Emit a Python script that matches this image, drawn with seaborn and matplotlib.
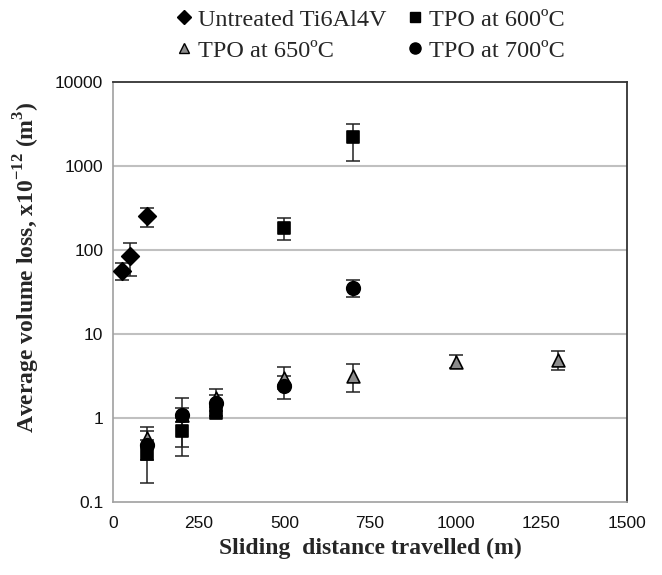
import matplotlib
matplotlib.use("Agg")
import matplotlib.pyplot as plt
import seaborn as sns
import numpy as np
import pandas as pd
from matplotlib.ticker import FixedLocator, MultipleLocator, LogLocator, NullFormatter, FuncFormatter
from matplotlib.lines import Line2D

# ---- data ----
labels = ["Untreated Ti6Al4V", "TPO at 600\u00baC", "TPO at 650\u00baC", "TPO at 700\u00baC"]

untreated_x = [25, 50, 100]
untreated_y = [57, 85, 255]
untreated_lo = [44, 49, 190]
untreated_hi = [70, 122, 313]

tpo600_x = [100, 200, 300, 500, 700]
tpo600_y = [0.37, 0.70, 1.15, 185, 2200]
tpo600_lo = [0.17, 0.35, 1.05, 130, 1150]
tpo600_hi = [0.55, 1.0, 1.35, 240, 3150]

tpo650_x = [100, 200, 300, 500, 700, 1000, 1300]
tpo650_y = [0.58, 1.1, 1.75, 3.0, 3.2, 4.7, 4.9]
tpo650_lo = [0.45, 0.9, 1.4, 2.2, 2.05, 3.9, 3.75]
tpo650_hi = [0.78, 1.3, 2.2, 4.0, 4.4, 5.6, 6.2]

tpo700_x = [100, 200, 300, 500, 700]
tpo700_y = [0.48, 1.1, 1.5, 2.4, 35]
tpo700_lo = [0.32, 0.45, 1.2, 1.7, 27.5]
tpo700_hi = [0.70, 1.75, 1.9, 3.2, 44]

x_ticks = [0, 250, 500, 750, 1000, 1250, 1500]
y_ticks = [0.1, 1, 10, 100, 1000, 10000]
y_ticklabels = ["0.1", "1", "10", "100", "1000", "10000"]

series = [
    (labels[0], untreated_x, untreated_y, untreated_lo, untreated_hi),
    (labels[1], tpo600_x, tpo600_y, tpo600_lo, tpo600_hi),
    (labels[2], tpo650_x, tpo650_y, tpo650_lo, tpo650_hi),
    (labels[3], tpo700_x, tpo700_y, tpo700_lo, tpo700_hi),
]
rows = []
for name, xs, ys, lo, hi in series:
    for xv, yv, l, h in zip(xs, ys, lo, hi):
        rows.append({"series": name, "x": xv, "y": yv, "lo": l, "hi": h})
df = pd.DataFrame(rows)

# ---- style ----
sns.set_theme(style="white")
plt.rcParams["font.family"] = ["Liberation Sans", "DejaVu Sans"]
plt.rcParams["mathtext.fontset"] = "custom"
plt.rcParams["mathtext.rm"] = "Liberation Serif"
plt.rcParams["mathtext.bf"] = "Liberation Serif:bold"

fig = plt.figure(figsize=(6.62, 5.75), dpi=100)
ax = fig.add_axes([113/662, 1-502/575, (627-113)/662, (502-82)/575])

markers = {labels[0]: "D", labels[1]: "s", labels[2]: "^", labels[3]: "o"}
sizes = {labels[0]: 80, labels[1]: 72, labels[2]: 85, labels[3]: 95}
faces = {labels[0]: "black", labels[1]: "black", labels[2]: "#8c8c8c", labels[3]: "black"}

# error bars
for name, xs, ys, lo, hi in series:
    ys_a = np.array(ys); lo_a = np.array(lo); hi_a = np.array(hi)
    ax.errorbar(xs, ys_a, yerr=[ys_a - lo_a, hi_a - ys_a], fmt="none",
                ecolor="#222222", elinewidth=1.1, capsize=5, capthick=1.1, zorder=3)

for name in labels:
    sub = df[df["series"] == name]
    sns.scatterplot(data=sub, x="x", y="y", marker=markers[name], s=sizes[name],
                    color=faces[name], edgecolor="black", linewidth=1.2,
                    ax=ax, zorder=4, legend=False)

ax.set_yscale("log")
ax.set_xlim(0, 1500)
ax.set_ylim(0.1, 10000)

ax.xaxis.set_major_locator(FixedLocator(x_ticks))
ax.xaxis.set_minor_locator(MultipleLocator(50))
ax.yaxis.set_major_locator(FixedLocator(y_ticks))
ax.yaxis.set_major_formatter(FuncFormatter(lambda v, p: y_ticklabels[y_ticks.index(v)] if v in y_ticks else ""))
ax.yaxis.set_minor_locator(LogLocator(base=10, subs=np.arange(2, 10)))
ax.yaxis.set_minor_formatter(NullFormatter())

for yv in [1, 10, 100, 1000]:
    ax.axhline(yv, color="#c0c0c0", lw=1.5, zorder=1)

ax.tick_params(axis="both", which="major", direction="inout", length=8, width=1,
               color="#a0a0a0", labelsize=12.5, labelcolor="#111111")
ax.tick_params(axis="x", which="major", pad=6)
ax.tick_params(axis="y", which="major", pad=3)
ax.tick_params(axis="both", which="minor", direction="in", length=4, width=1, color="#a0a0a0")
ax.tick_params(axis="x", which="both", top=False)
ax.tick_params(axis="y", which="both", right=False)

for sp in ["left", "bottom"]:
    ax.spines[sp].set_color("#a0a0a0"); ax.spines[sp].set_linewidth(1.2)
for sp in ["top", "right"]:
    ax.spines[sp].set_color("#333333"); ax.spines[sp].set_linewidth(1.3)

ax.set_xlabel("Sliding  distance travelled (m)", fontfamily="Liberation Serif",
              fontweight="bold", fontsize=17, labelpad=5)
ax.set_ylabel(r"Average volume loss, x10$^{\mathbf{-12}}$ (m$^{\mathbf{3}}$)",
              fontfamily="Liberation Serif", fontweight="bold", fontsize=17)
ax.yaxis.set_label_coords(-0.138, 0.56)

# legend
leg_handles = []
for name in labels:
    leg_handles.append(Line2D([], [], linestyle="none", marker=markers[name],
                              markersize=7 if markers[name] != "o" else 8,
                              markerfacecolor=faces[name], markeredgecolor="black", markeredgewidth=1))
order = [0, 2, 1, 3]
fig.legend([leg_handles[i] for i in order], [labels[i] for i in order],
           loc="upper center", bbox_to_anchor=(0.561, 1.023), ncol=2, frameon=False,
           prop={"family": "Liberation Serif", "size": 17.5}, handlelength=0.5,
           handletextpad=0.3, columnspacing=0.95, labelspacing=0.38)

fig.savefig("out.png", dpi=100)
